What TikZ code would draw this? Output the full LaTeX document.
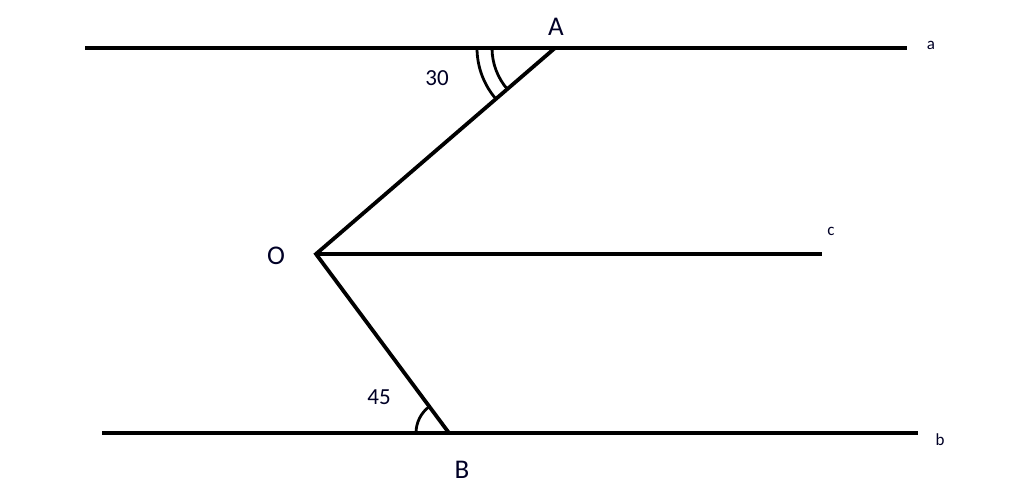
\documentclass[tikz,border=0pt]{standalone}
\usepackage{fontspec}
\setmainfont{Carlito}
\begin{document}
\begin{tikzpicture}[x=1pt,y=-1pt,
  ln/.style={line width=3.8pt},
  arcln/.style={line width=2.8pt},
  big/.style={font=\fontsize{27}{29}\selectfont, text=black!85!blue},
  mid/.style={font=\fontsize{23}{26}\selectfont, text=black!85!blue},
  small/.style={font=\fontsize{17}{20}\selectfont, text=black!85!blue}]
\useasboundingbox[fill=white] (0,0) rectangle (1024,503);
\coordinate (A) at (555,48);
\coordinate (O) at (316,254);
\coordinate (B) at (449,433);
\coordinate (a1) at (85,48);
\coordinate (a2) at (907,48);
\coordinate (b1) at (102,433);
\coordinate (b2) at (918,433);
\coordinate (c2) at (822,254);
\draw[ln] (a1) -- (a2);
\draw[ln] (b1) -- (b2);
\draw[ln] (O) -- (c2);
\draw[ln,line join=miter] (A) -- (O) -- (B);
% angle arcs
\draw[arcln] (A) ++(180:78) arc[start angle=180, end angle=220.8, radius=78, y radius=-78];
\draw[arcln] (A) ++(180:63) arc[start angle=180, end angle=220.8, radius=63, y radius=-63];
\draw[arcln] (B) ++(180:33) arc[start angle=180, end angle=126.6, radius=33, y radius=-33];
% labels
\node[big] (lA) at (556,27) {A};
\node[big] (lO) at (276,256) {O};
\node[big] (lB) at (462,470) {B};
\node[mid] (l30) at (437,78) {30};
\node[mid] (l45) at (379,397) {45};
\node[small] (la) at (931,45) {a};
\node[small] (lb) at (940,440) {b};
\node[small] (lc) at (831,231) {c};
\end{tikzpicture}
\end{document}
